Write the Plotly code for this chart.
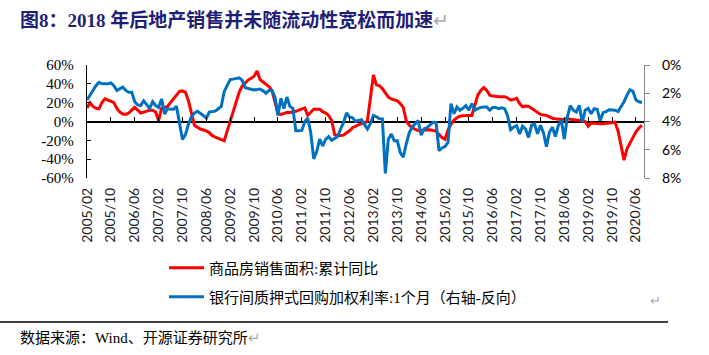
import pandas as pd
import plotly.graph_objects as go

# ---------------- data ----------------
months = pd.date_range("2005-02-01", periods=187, freq="MS").strftime("%Y/%m").tolist()

tick_labels = ["2005/02", "2005/10", "2006/06", "2007/02", "2007/10", "2008/06",
               "2009/02", "2009/10", "2010/06", "2011/02", "2011/10", "2012/06",
               "2013/02", "2013/10", "2014/06", "2015/02", "2015/10", "2016/06",
               "2017/02", "2017/10", "2018/06", "2019/02", "2019/10", "2020/06"]

# 商品房销售面积:累计同比 (%)
sales_area_yoy = [
    14.4, 20, 16, 14, 13.5, 20, 24, 23, 21.5, 20,
    14, 10, 8, 7.5, 9, 12, 15, 12, 9, 10,
    11, 12, 12, 10, 1, 14, 15, 16, 20, 24,
    28, 32, 32.5, 31, 22, 9, -4, -6, -8, -9,
    -10, -12, -15, -16.5, -18, -19.5, -20.5, -10, 0, 12,
    22, 31, 37.5, 41, 44, 46, 48, 53.5, 44.5, 42,
    39.5, 37, 33, 19, 8.5, 7.5, 8.5, 9.5, 9.5, 10,
    10.8, 12, 13.5, 14.5, 6.5, 9.5, 13, 13, 13, 10.5,
    9, 6.5, 1, -14, -15, -14.8, -14.5, -12, -9.8, -6.5,
    -5, -4.3, -2, -2, 1, 25, 49.5, 39, 38, 35,
    31, 26, 24, 23, 22, 19, 15, 1, -4, -6.5,
    -8.5, -9.5, -9.8, -9, -8.8, -8.7, -9.5, -10, -14, -17,
    -18.8, -9, -3, 1.5, 4, 5.5, 6, 6.5, 6.5, 6.5,
    17, 28, 33, 36, 33, 28, 27, 26.4, 26.4, 26.4,
    26.4, 25, 22.8, 23.5, 24.6, 19, 15.5, 16.5, 16, 14,
    12, 9.5, 7.5, 7, 6.5, 5, 3.5, 2.9, 2.5, 2.2,
    2.5, 2.9, 2.5, 1.8, 1.6, 1.4, 0.8, 0, -5, -1.5,
    -2, -2.5, -2.5, -2.5, -2, -1, -0.7, -0.7, -10, -25,
    -41, -29, -23, -17.5, -11, -7, -4,
]

# 银行间质押式回购加权利率:1个月 (%), right axis, reversed
repo_1m = [
    2.48, 2.13, 1.73, 1.47, 1.23, 1.33, 1.33, 1.33, 1.27, 1.47,
    1.80, 1.67, 1.57, 1.80, 1.93, 1.93, 2.60, 2.83, 2.87, 2.53,
    2.80, 3.07, 2.60, 2.87, 3.00, 2.40, 3.47, 3.10, 3.13, 3.13,
    2.93, 4.27, 5.27, 4.93, 4.20, 3.67, 3.40, 3.27, 3.40, 3.57,
    3.77, 3.33, 3.30, 3.27, 3.10, 2.93, 1.87, 1.47, 1.03, 1.00,
    0.97, 0.91, 1.07, 1.60, 1.67, 1.70, 1.76, 1.73, 1.70, 1.83,
    2.00, 1.80, 1.80, 2.27, 3.57, 2.36, 3.09, 2.27, 2.93, 3.07,
    4.65, 4.65, 4.63, 4.00, 3.76, 4.80, 6.65, 6.13, 5.25, 5.73,
    5.27, 5.07, 5.33, 5.20, 5.07, 4.53, 4.07, 3.40, 3.67, 3.73,
    4.00, 3.93, 3.88, 4.20, 4.53, 4.13, 3.57, 3.67, 3.80, 3.81,
    7.67, 5.25, 4.89, 5.37, 5.37, 6.20, 6.53, 5.60, 4.80, 4.40,
    4.17, 3.93, 4.97, 4.53, 4.43, 4.27, 4.05, 4.07, 6.07, 5.87,
    5.77, 5.49, 2.73, 3.45, 2.97, 3.20, 3.07, 2.87, 3.20, 2.73,
    3.20, 3.09, 3.00, 2.97, 2.97, 3.20, 3.00, 3.00, 3.09, 3.03,
    3.09, 3.60, 4.58, 4.40, 4.29, 4.89, 4.33, 4.53, 5.13, 4.27,
    4.17, 4.87, 4.27, 4.80, 5.78, 4.77, 4.40, 5.07, 4.27, 3.93,
    5.25, 3.69, 2.87, 3.20, 3.33, 2.85, 4.05, 3.20, 3.07, 3.45,
    3.09, 3.13, 3.93, 3.37, 3.30, 3.17, 3.17, 3.20, 3.30, 2.97,
    2.60, 2.13, 1.76, 1.87, 2.48, 2.60, 2.65,
]

left_ticks = [-60, -40, -20, 0, 20, 40, 60]
left_text = ["-60%", "-40%", "-20%", "0%", "20%", "40%", "60%"]
right_ticks = [0, 2, 4, 6, 8]
right_text = ["0%", "2%", "4%", "6%", "8%"]

title_text = "图8：2018 年后地产销售并未随流动性宽松而加速"
red_name = "商品房销售面积:累计同比"
blue_name = "银行间质押式回购加权利率:1个月（右轴-反向）"
source_text = "数据来源：Wind、开源证券研究所"

# ---------------- layout geometry ----------------
W, H = 709, 355
x0, x1 = 87 / W, 644 / W
yb, yt = 1 - 178 / H, 1 - 65 / H
ymid = (yb + yt) / 2
xr = [0, 186.7]

SERIF_CJK = "Liberation Serif, Noto Sans CJK SC, serif"
SANS = "Lato, Liberation Sans, sans-serif"

fig = go.Figure()

fig.add_trace(go.Scatter(
    x=months, y=sales_area_yoy, name=red_name, mode="lines",
    line=dict(color="#FF0000", width=3), xaxis="x", yaxis="y",
    legend="legend",
))
fig.add_trace(go.Scatter(
    x=months, y=repo_1m, name=blue_name, mode="lines",
    line=dict(color="#0070C0", width=3), xaxis="x", yaxis="y2",
    legend="legend2",
))
# invisible carrier trace for the tick marks on the zero line
fig.add_trace(go.Scatter(
    x=months, y=sales_area_yoy, mode="lines", line=dict(width=0),
    opacity=0, showlegend=False, hoverinfo="skip", xaxis="x2", yaxis="y",
))

fig.update_layout(
    width=W, height=H, autosize=False,
    margin=dict(l=0, r=0, t=0, b=0, pad=0),
    paper_bgcolor="white", plot_bgcolor="white",
    showlegend=True,
    xaxis=dict(
        type="category", domain=[x0, x1], range=xr, anchor="y",
        tickmode="array", tickvals=tick_labels, ticktext=tick_labels,
        tickangle=-90, showline=False, ticks="", showgrid=False, zeroline=False,
        tickfont=dict(family=SANS, size=14, color="#222"),
        ticklabelstandoff=6, automargin=False,
    ),
    xaxis2=dict(
        type="category", overlaying="x", anchor="free", position=ymid,
        range=xr, domain=[x0, x1],
        tickmode="array", tickvals=tick_labels, ticktext=[""] * len(tick_labels),
        ticks="inside", ticklen=5, tickcolor="black", tickwidth=1,
        showline=False, showgrid=False, zeroline=False, automargin=False,
    ),
    yaxis=dict(
        domain=[yb, yt], range=[-60, 60], tickmode="array",
        tickvals=left_ticks, ticktext=left_text,
        showline=True, linecolor="black", linewidth=1.3,
        ticks="inside", ticklen=4, tickcolor="black",
        showgrid=False, zeroline=True, zerolinecolor="black", zerolinewidth=1.5,
        tickfont=dict(family="Liberation Serif, serif", size=15, color="black"),
        ticklabelstandoff=9, anchor="x", automargin=False,
    ),
    yaxis2=dict(
        overlaying="y", side="right", anchor="x", range=[8, 0],
        tickmode="array", tickvals=right_ticks, ticktext=right_text,
        showline=True, linecolor="#868686", linewidth=1.3,
        ticks="outside", ticklen=5, tickcolor="#868686",
        showgrid=False, zeroline=False,
        tickfont=dict(family=SANS, size=14, color="black"),
        ticklabelstandoff=9, automargin=False,
    ),
    legend=dict(
        x=164 / W, y=1 - 268 / H, xanchor="left", yanchor="middle",
        bgcolor="rgba(0,0,0,0)", borderwidth=0, itemwidth=35,
        font=dict(family=SERIF_CJK, size=15, color="black"),
    ),
    legend2=dict(
        x=164 / W, y=1 - 297 / H, xanchor="left", yanchor="middle",
        bgcolor="rgba(0,0,0,0)", borderwidth=0, itemwidth=35,
        font=dict(family=SERIF_CJK, size=15, color="black"),
    ),
)

# title
fig.add_annotation(
    xref="paper", yref="paper", x=18 / W, y=1 - 20 / H, xanchor="left", yanchor="middle",
    text="<b>" + title_text + "</b><span style='color:#aaaaaa'>↵</span>",
    showarrow=False, font=dict(family=SERIF_CJK, size=19, color="#1F1F78"),
)
# return marks
fig.add_annotation(xref="paper", yref="paper", x=663 / W, y=1 - 311 / H,
                   text="↵", showarrow=False, font=dict(size=13, color="#aaaaaa"))
# footer rule
fig.add_shape(type="line", xref="paper", yref="paper", x0=0, x1=668 / W,
              y0=1 - 322 / H, y1=1 - 322 / H, line=dict(color="black", width=1.3))
# source
fig.add_annotation(
    xref="paper", yref="paper", x=18 / W, y=1 - 338 / H, xanchor="left", yanchor="middle",
    text=source_text + "<span style='color:#aaaaaa'>↵</span>", showarrow=False,
    font=dict(family=SERIF_CJK, size=15, color="black"),
)

fig.write_html("out.html",
               config={"displayModeBar": False},
               post_script="document.body.style.margin='0';document.body.style.padding='0';")
